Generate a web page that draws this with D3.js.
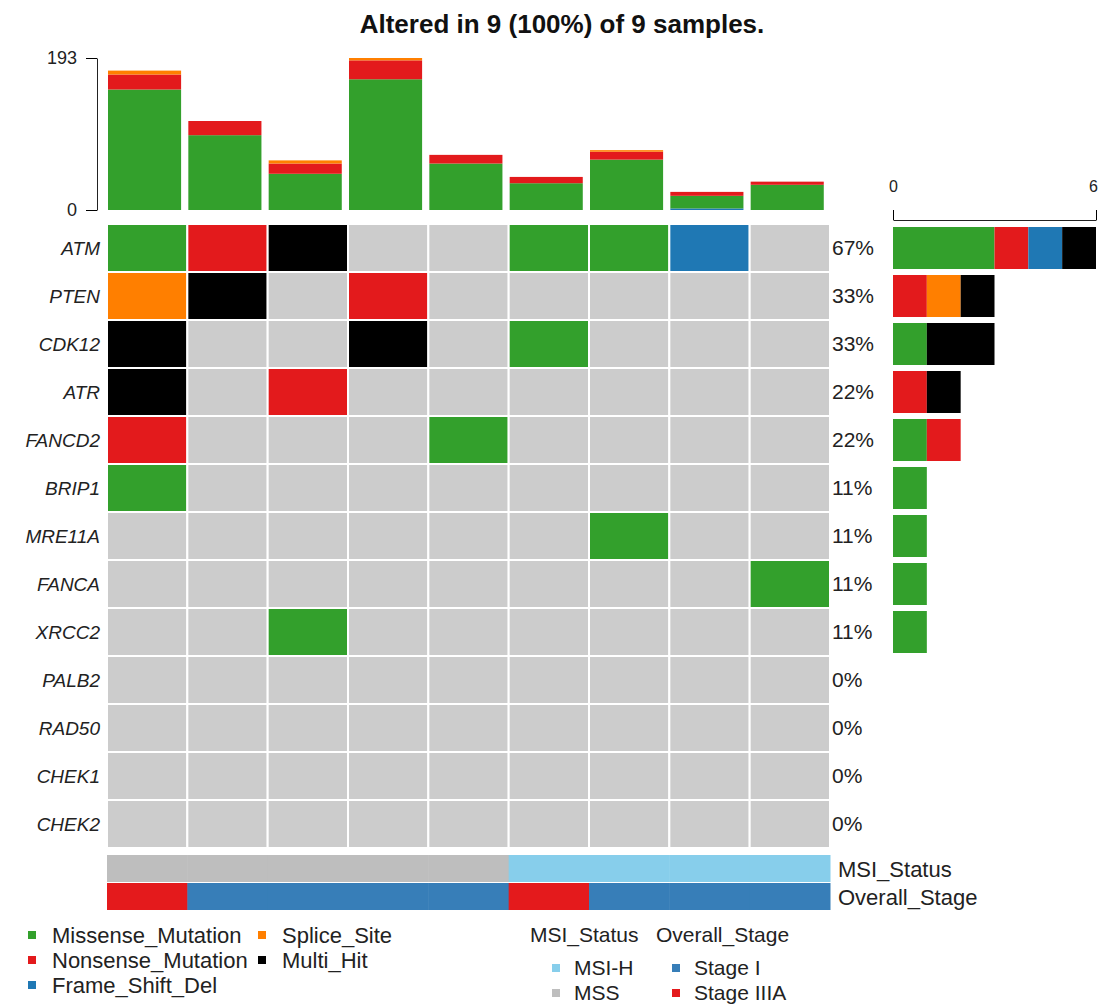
<!DOCTYPE html>
<html>
<head>
  <meta charset="utf-8">
  <title>Oncoplot</title>
  <script src="https://d3js.org/d3.v7.min.js"></script>
  <style>
    body { margin: 0; background: white; }
    text { font-family: "Liberation Sans", Arial, sans-serif; }
  </style>
</head>
<body>
<div id="container"></div>
<script>
  const width = 1099, height = 1005;

  // data
  const samples = ["S1", "S2", "S3", "S4", "S5", "S6", "S7", "S8", "S9"];
  const genes = ["ATM", "PTEN", "CDK12", "ATR", "FANCD2", "BRIP1", "MRE11A",
    "FANCA", "XRCC2", "PALB2", "RAD50", "CHEK1", "CHEK2"];
  const types = ["Missense_Mutation", "Nonsense_Mutation", "Frame_Shift_Del", "Splice_Site", "Multi_Hit"];
  const typeColors = ["#33a02c", "#e31a1c", "#1f78b4", "#ff7f00", "#000000"];

  // per gene, the variant seen in each sample (null = none)
  const M = "Missense_Mutation", N = "Nonsense_Mutation", F = "Frame_Shift_Del",
        S = "Splice_Site", H = "Multi_Hit";
  const matrix = [
    [M, N, H, null, null, M, M, F, null],
    [S, H, null, N, null, null, null, null, null],
    [H, null, null, H, null, M, null, null, null],
    [H, null, N, null, null, null, null, null, null],
    [N, null, null, null, M, null, null, null, null],
    [M, null, null, null, null, null, null, null, null],
    [null, null, null, null, null, null, M, null, null],
    [null, null, null, null, null, null, null, null, M],
    [null, null, M, null, null, null, null, null, null],
    [null, null, null, null, null, null, null, null, null],
    [null, null, null, null, null, null, null, null, null],
    [null, null, null, null, null, null, null, null, null],
    [null, null, null, null, null, null, null, null, null]
  ];

  // total variants per sample (top bars)
  const missenseTop = [153, 95, 46, 166, 59, 34, 64, 16, 32];
  const nonsenseTop = [19, 18, 13, 24, 11, 8, 10, 5, 4];
  const frameShiftTop = [0, 0, 0, 0, 0, 0, 0, 2, 0];
  const spliceTop = [5, 0, 4, 3, 0, 0, 2, 0, 0];
  const multiTop = [0, 0, 0, 0, 0, 0, 0, 0, 0];
  const topMax = 193;

  const msiStatus = ["MSS", "MSS", "MSS", "MSS", "MSS", "MSI-H", "MSI-H", "MSI-H", "MSI-H"];
  const overallStage = ["Stage IIIA", "Stage I", "Stage I", "Stage I", "Stage I",
    "Stage IIIA", "Stage I", "Stage I", "Stage I"];
  const msiLevels = ["MSI-H", "MSS"], msiColors = ["#87ceeb", "#bebebe"];
  const stageLevels = ["Stage I", "Stage IIIA"], stageColors = ["#377eb8", "#e41a1c"];

  const color = d3.scaleOrdinal().domain(types).range(typeColors);
  const msiColor = d3.scaleOrdinal().domain(msiLevels).range(msiColors);
  const stageColor = d3.scaleOrdinal().domain(stageLevels).range(stageColors);

  const svg = d3.select("#container").append("svg")
    .attr("width", width).attr("height", height)
    .style("display", "block");

  const x = d3.scaleBand().domain(samples).range([107, 830]);
  const y = d3.scaleBand().domain(genes).range([224, 848]);

  // title
  svg.append("text")
    .attr("x", 562).attr("y", 33)
    .attr("text-anchor", "middle")
    .style("font-size", "26px").style("font-weight", "bold")
    .attr("fill", "#111")
    .text("Altered in 9 (100%) of 9 samples.");

  // ---- top bar chart
  const yTop = d3.scaleLinear().domain([0, topMax]).range([210, 58]);
  const topSeries = [missenseTop, nonsenseTop, frameShiftTop, spliceTop, multiTop];
  const topRows = samples.map((s, i) => {
    const r = { sample: s };
    types.forEach((t, k) => r[t] = topSeries[k][i]);
    return r;
  });
  const stackOrder = ["Frame_Shift_Del", "Missense_Mutation", "Nonsense_Mutation", "Splice_Site", "Multi_Hit"];
  const stacked = d3.stack().keys(stackOrder)(topRows);

  svg.append("g").selectAll("g")
    .data(stacked).join("g")
    .attr("fill", d => color(d.key))
    .selectAll("rect")
    .data(d => d).join("rect")
    .attr("x", d => x(d.data.sample) + 1)
    .attr("width", x.bandwidth() * 0.91)
    .attr("y", d => yTop(d[1]))
    .attr("height", d => yTop(d[0]) - yTop(d[1]));

  svg.append("g")
    .attr("transform", "translate(97,0)")
    .call(d3.axisLeft(yTop).tickValues([0, topMax]).tickSize(11).tickSizeOuter(0).tickPadding(9))
    .call(g => g.selectAll("text").style("font-size", "18px").attr("fill", "#222"))
    .call(g => g.select(".domain").attr("stroke", "#222"));

  // ---- oncoplot matrix
  const cells = [];
  genes.forEach((g, gi) => samples.forEach((s, si) => cells.push({ gene: g, sample: s, v: matrix[gi][si] })));

  svg.append("g").selectAll("rect")
    .data(cells).join("rect")
    .attr("x", d => x(d.sample))
    .attr("y", d => y(d.gene))
    .attr("width", x.bandwidth())
    .attr("height", y.bandwidth())
    .attr("fill", d => d.v ? color(d.v) : "#cccccc")
    .attr("stroke", "white")
    .attr("stroke-width", 2);

  // gene labels
  svg.append("g").selectAll("text")
    .data(genes).join("text")
    .attr("x", 100)
    .attr("y", d => y(d) + y.bandwidth() / 2)
    .attr("dy", "0.35em")
    .attr("text-anchor", "end")
    .style("font-size", "19px").style("font-style", "italic")
    .attr("fill", "#222")
    .text(d => d);

  // percentages
  const geneCounts = matrix.map(r => r.filter(v => v).length);
  svg.append("g").selectAll("text")
    .data(genes).join("text")
    .attr("x", 832)
    .attr("y", d => y(d) + y.bandwidth() / 2)
    .attr("dy", "0.35em")
    .style("font-size", "21px")
    .attr("fill", "#222")
    .text((d, i) => Math.round(geneCounts[i] / samples.length * 100) + "%");

  // ---- right bar chart
  const xRight = d3.scaleLinear().domain([0, 6]).range([893, 1096]);
  const rightRows = genes.map((g, gi) => {
    const r = { gene: g };
    types.forEach(t => r[t] = matrix[gi].filter(v => v === t).length);
    return r;
  });
  const rStack = d3.stack().keys(types)(rightRows);
  svg.append("g").selectAll("g")
    .data(rStack).join("g")
    .attr("fill", d => color(d.key))
    .selectAll("rect")
    .data(d => d.filter(e => e[1] > e[0])).join("rect")
    .attr("x", d => xRight(d[0]))
    .attr("width", d => xRight(d[1]) - xRight(d[0]))
    .attr("y", d => y(d.data.gene) + 3)
    .attr("height", y.bandwidth() - 6);

  svg.append("g")
    .attr("transform", "translate(0,220)")
    .call(d3.axisTop(xRight).tickValues([0, 6]).tickFormat(d3.format("d"))
      .tickSize(10).tickSizeOuter(0).tickPadding(18))
    .call(g => g.selectAll("text").style("font-size", "16px").attr("fill", "#222"))
    .call(g => g.selectAll(".tick:last-of-type text").attr("dx", "-3"))
    .call(g => g.select(".domain").attr("stroke", "#222"));

  // ---- annotation rows
  svg.append("g").selectAll("rect")
    .data(samples).join("rect")
    .attr("x", d => x(d)).attr("width", x.bandwidth() + 0.5)
    .attr("y", 855).attr("height", 27)
    .attr("fill", (d, i) => msiColor(msiStatus[i]));
  svg.append("g").selectAll("rect")
    .data(samples).join("rect")
    .attr("x", d => x(d)).attr("width", x.bandwidth() + 0.5)
    .attr("y", 883).attr("height", 27)
    .attr("fill", (d, i) => stageColor(overallStage[i]));
  svg.append("text").attr("x", 838).attr("y", 869).attr("dy", "0.35em")
    .style("font-size", "22px").attr("fill", "#222").text("MSI_Status");
  svg.append("text").attr("x", 838).attr("y", 897).attr("dy", "0.35em")
    .style("font-size", "22px").attr("fill", "#222").text("Overall_Stage");

  // ---- legends
  const legendCols = [[0, 1, 2], [3, 4]];
  const colX = [28, 258];
  legendCols.forEach((col, ci) => {
    const g = svg.append("g");
    g.selectAll("rect").data(col).join("rect")
      .attr("x", colX[ci]).attr("y", (d, i) => 931 + i * 25)
      .attr("width", 8).attr("height", 8)
      .attr("fill", d => typeColors[d]);
    g.selectAll("text").data(col).join("text")
      .attr("x", colX[ci] + 24).attr("y", (d, i) => 935 + i * 25)
      .attr("dy", "0.35em")
      .style("font-size", "22px").attr("fill", "#222")
      .text(d => types[d]);
  });

  svg.append("text").attr("x", 530).attr("y", 935).attr("dy", "0.35em")
    .style("font-size", "21px").attr("fill", "#222").text("MSI_Status");
  svg.append("text").attr("x", 656).attr("y", 935).attr("dy", "0.35em")
    .style("font-size", "21px").attr("fill", "#222").text("Overall_Stage");

  const annLegends = [
    { levels: msiLevels, colors: msiColors, x: 552 },
    { levels: stageLevels, colors: stageColors, x: 672 }
  ];
  annLegends.forEach(a => {
    const g = svg.append("g");
    g.selectAll("rect").data(a.levels).join("rect")
      .attr("x", a.x).attr("y", (d, i) => 964 + i * 25)
      .attr("width", 8).attr("height", 8)
      .attr("fill", (d, i) => a.colors[i]);
    g.selectAll("text").data(a.levels).join("text")
      .attr("x", a.x + 22).attr("y", (d, i) => 968 + i * 25)
      .attr("dy", "0.35em")
      .style("font-size", "21px").attr("fill", "#222")
      .text(d => d);
  });
</script>
</body>
</html>
